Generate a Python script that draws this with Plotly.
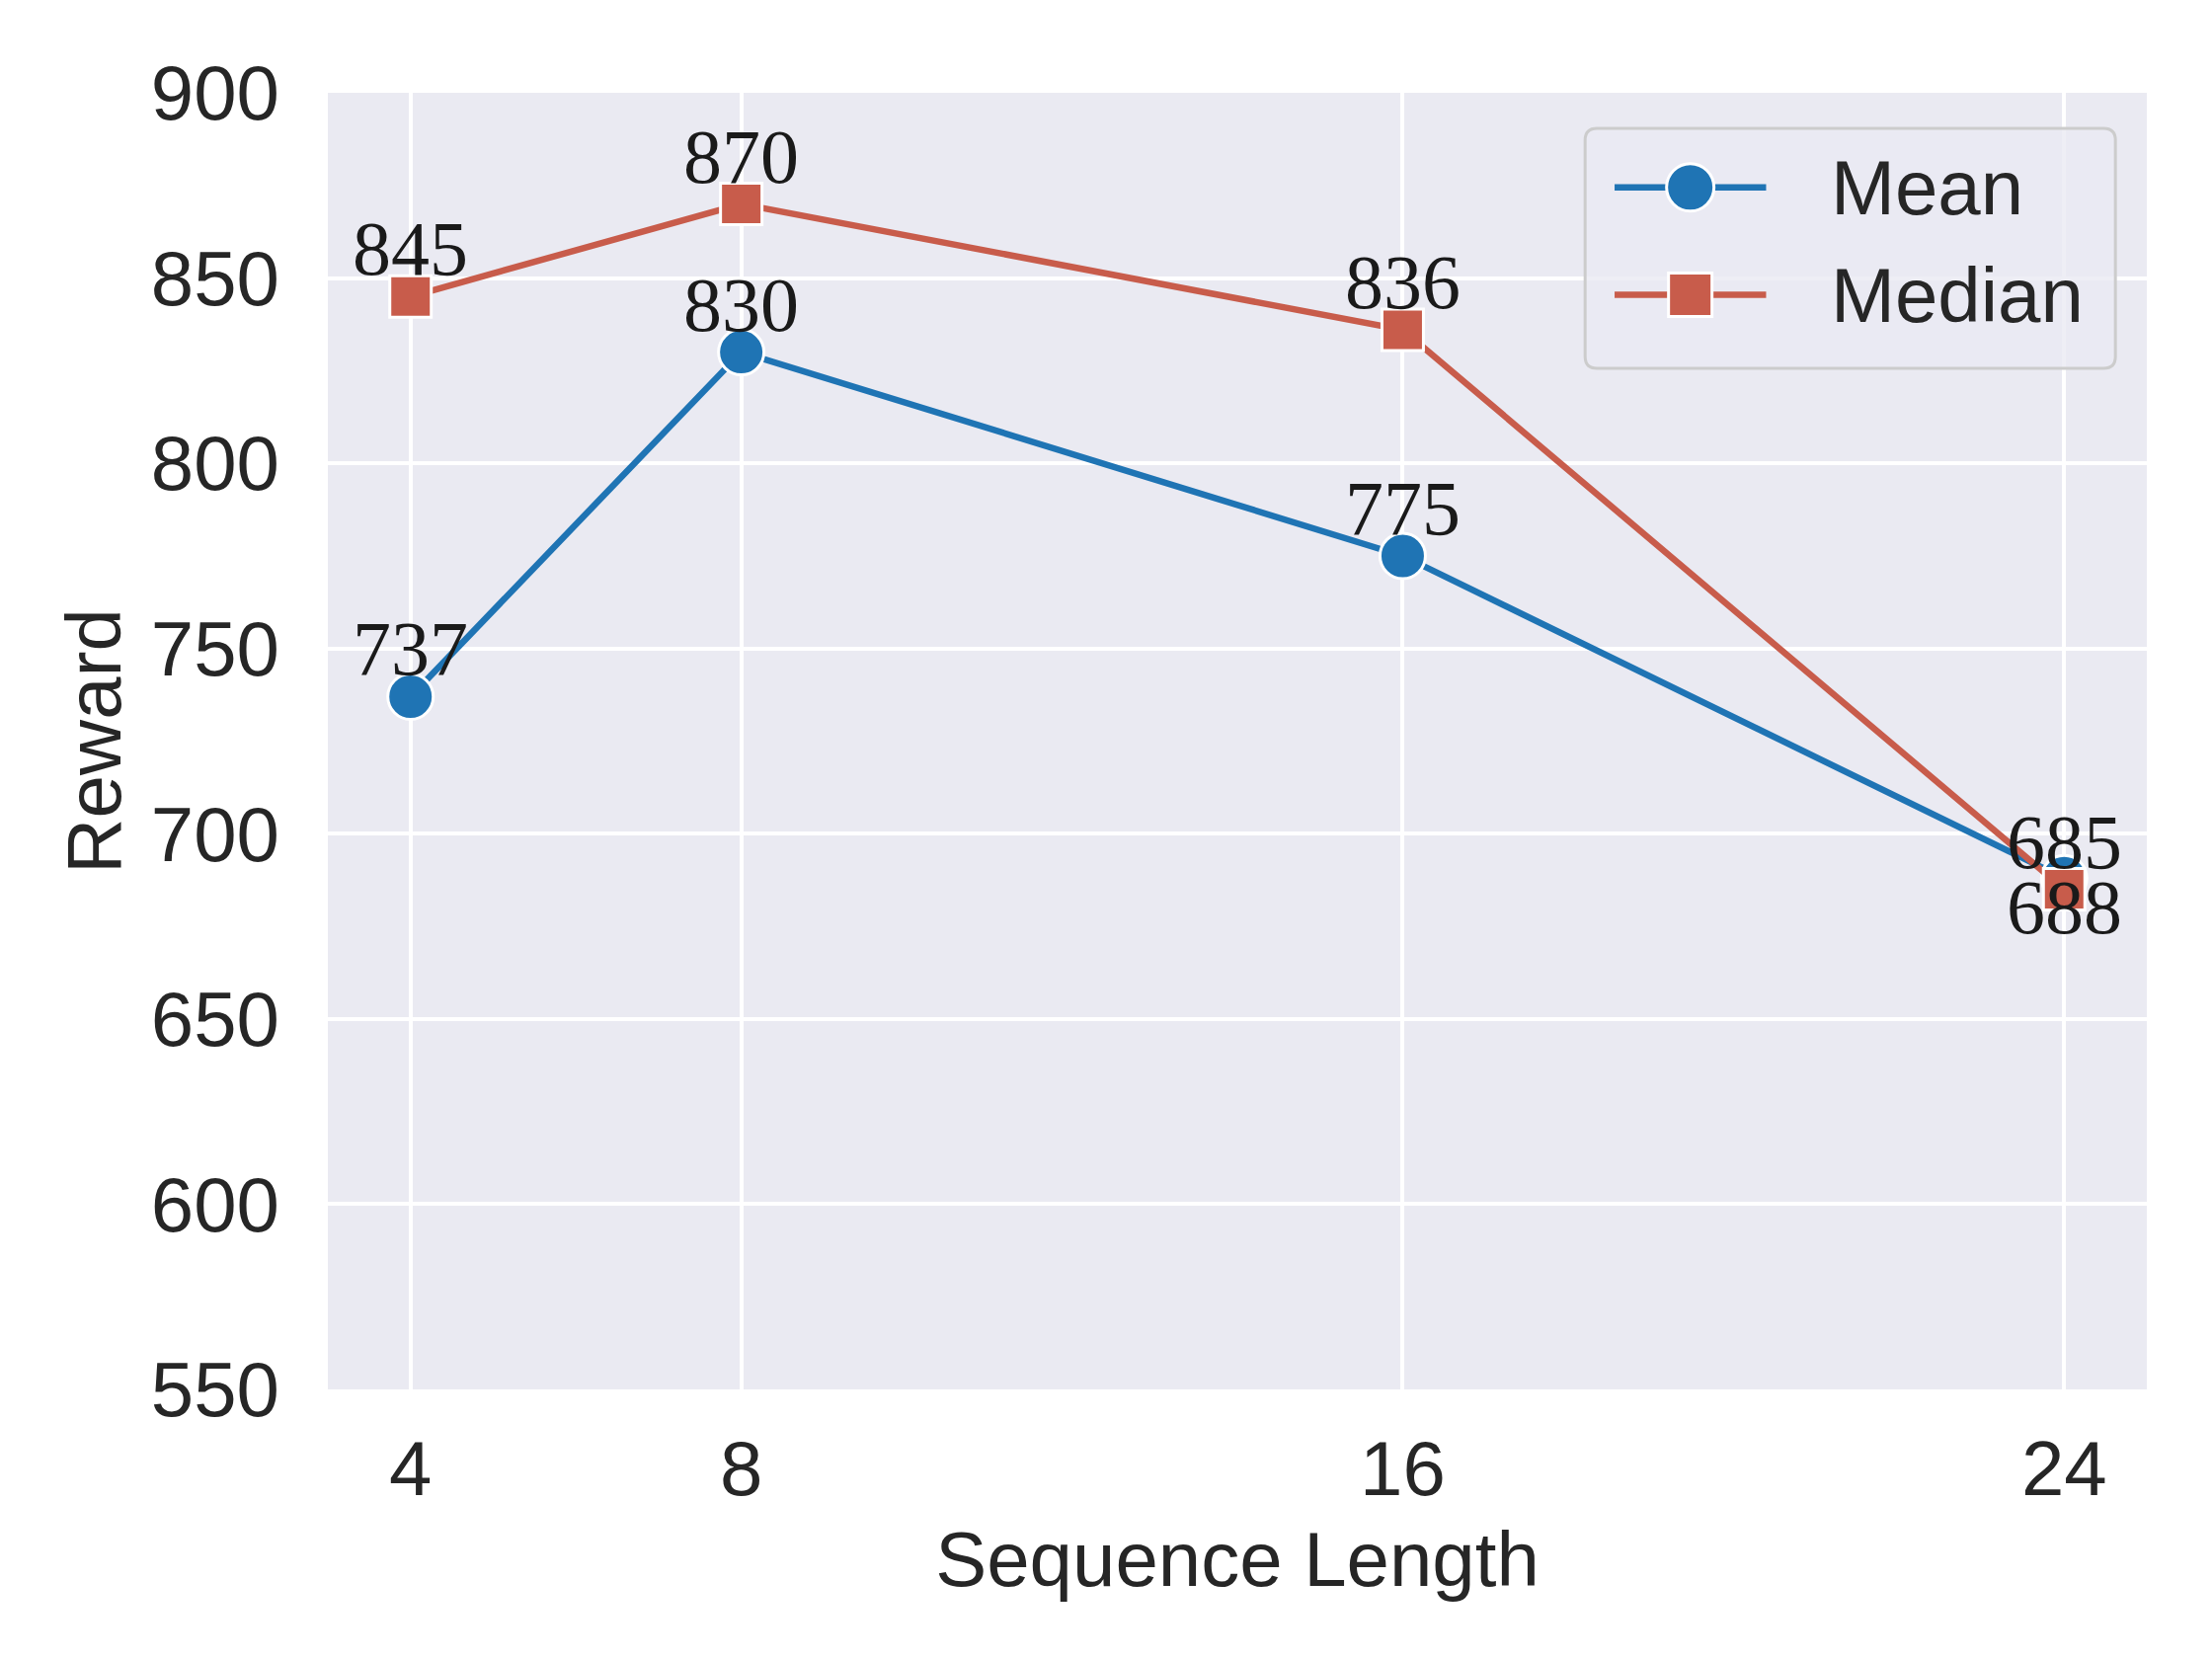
"""Reward vs sequence length, mean and median."""

import plotly.graph_objects as go

seq_len = [4, 8, 16, 24]
mean_reward = [737, 830, 775, 688]
median_reward = [845, 870, 836, 685]
y_ticks = [550, 600, 650, 700, 750, 800, 850, 900]
x_ticks = [4, 8, 16, 24]

BLUE = "#1f74b4"
RED = "#c85c4b"
BG = "#eaeaf2"
INK = "#262626"
SANS = "Liberation Sans, Arial, sans-serif"
SERIF = "Liberation Serif, Times New Roman, serif"

fig = go.Figure()

fig.add_trace(go.Scatter(
    x=seq_len, y=mean_reward, name="Mean", mode="lines+markers",
    line=dict(color=BLUE, width=6.5),
    marker=dict(symbol="circle", size=46, color=BLUE, line=dict(color="white", width=3)),
))
fig.add_trace(go.Scatter(
    x=seq_len, y=median_reward, name="Median", mode="lines+markers",
    line=dict(color=RED, width=6.5),
    marker=dict(symbol="square", size=42, color=RED, line=dict(color="white", width=3)),
))

# value labels: above the point, mean goes below when the two collide
label_font = dict(family=SERIF, size=78, color="#1a1a1a")
for xv, mv, dv in zip(seq_len, mean_reward, median_reward):
    close = abs(mv - dv) < 10
    fig.add_annotation(x=xv, y=dv, text=str(dv), showarrow=False,
                       yanchor="bottom", yshift=3, font=label_font)
    if close:
        fig.add_annotation(x=xv, y=mv, text=str(mv), showarrow=False,
                           yanchor="top", yshift=16, font=label_font)
    else:
        fig.add_annotation(x=xv, y=mv, text=str(mv), showarrow=False,
                           yanchor="bottom", yshift=3, font=label_font)

# hand-drawn legend so the samples keep the plot's marker size
fig.add_shape(type="path", xref="x domain", yref="y domain",
              xsizemode="pixel", ysizemode="pixel", xanchor=0.6912, yanchor=0.9726,
              path="M 12,0 L 525,0 Q 537,0 537,-12 L 537,-231 Q 537,-243 525,-243 "
                   "L 12,-243 Q 0,-243 0,-231 L 0,-12 Q 0,0 12,0 Z",
              line=dict(color="#cccccc", width=3), fillcolor="rgba(234,234,242,0.8)")
legend_rows = [("Mean", BLUE, "circle", 0.9271), ("Median", RED, "square", 0.8442)]
for label, color, symbol, ry in legend_rows:
    fig.add_shape(type="line", xref="x domain", yref="y domain",
                  x0=0.7074, x1=0.7907, y0=ry, y1=ry,
                  line=dict(color=color, width=6.5))
    shape_type = "circle" if symbol == "circle" else "rect"
    half = 24 if symbol == "circle" else 22
    fig.add_shape(type=shape_type, xref="x domain", yref="y domain",
                  xsizemode="pixel", ysizemode="pixel", xanchor=0.7490, yanchor=ry,
                  x0=-half, x1=half, y0=-half, y1=half,
                  fillcolor=color, line=dict(color="white", width=3))
    fig.add_annotation(xref="x domain", yref="y domain", x=0.8250, y=ry,
                       xanchor="left", yanchor="middle", showarrow=False, text=label,
                       font=dict(family=SANS, size=78, color=INK))

fig.update_layout(
    width=2240, height=1680,
    margin=dict(l=324, r=74, t=86, b=281),
    paper_bgcolor="white", plot_bgcolor=BG,
    showlegend=False,
    font=dict(family=SANS, size=78, color=INK),
)
fig.update_xaxes(
    range=[3, 25], tickvals=x_ticks, ticktext=[str(v) for v in x_ticks],
    showgrid=True, gridcolor="white", gridwidth=4, zeroline=False,
    showline=False, ticks="", ticklabelstandoff=28,
    title=dict(text="Sequence Length", standoff=21, font=dict(size=78)),
    tickfont=dict(size=78),
)
fig.update_yaxes(
    range=[550, 900], tickvals=y_ticks,
    showgrid=True, gridcolor="white", gridwidth=4, zeroline=False,
    showline=False, ticks="", ticklabelstandoff=48,
    title=dict(text="Reward", standoff=4, font=dict(size=78)),
    tickfont=dict(size=78),
)

fig.write_html("out.html")
